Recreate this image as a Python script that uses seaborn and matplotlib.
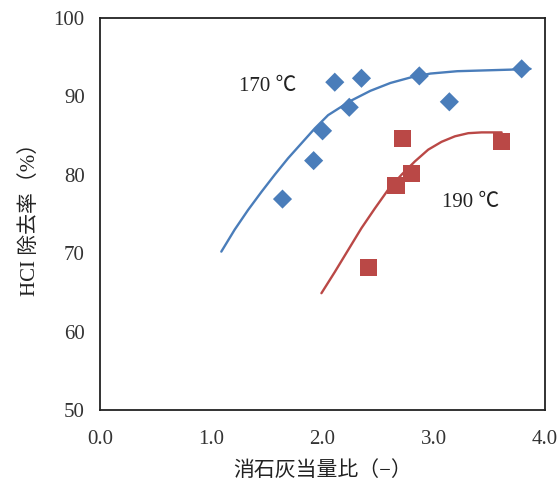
import matplotlib
matplotlib.use("Agg")
import matplotlib.pyplot as plt
import seaborn as sns
import pandas as pd

# measured points
x170 = [1.64, 1.92, 2.00, 2.11, 2.24, 2.35, 2.87, 3.14, 3.79]
y170 = [76.9, 81.8, 85.6, 91.8, 88.6, 92.3, 92.6, 89.3, 93.5]
x190 = [2.41, 2.66, 2.72, 2.80, 3.61]
y190 = [68.2, 78.6, 84.6, 80.2, 84.2]

# fitted curves
cx170 = [1.09, 1.21, 1.33, 1.45, 1.57, 1.69, 1.81, 1.93, 2.05, 2.25,
         2.43, 2.61, 2.79, 2.97, 3.21, 3.45, 3.69, 3.87]
cy170 = [70.2, 73.0, 75.5, 77.8, 80.0, 82.1, 84.0, 85.9, 87.6, 89.4,
         90.7, 91.7, 92.4, 92.9, 93.2, 93.3, 93.4, 93.5]
cx190 = [1.99, 2.11, 2.23, 2.35, 2.47, 2.59, 2.71, 2.83, 2.95, 3.07, 3.19,
         3.31, 3.43, 3.61]
cy190 = [64.9, 67.6, 70.4, 73.2, 75.7, 78.1, 80.0, 81.7, 83.2, 84.2, 84.9,
         85.3, 85.4, 85.4]

BLUE = "#4A7DBA"
RED = "#BA4846"

sns.set_style("white")
plt.rcParams["font.family"] = ["Liberation Serif", "Noto Sans CJK JP"]

fig = plt.figure(figsize=(5.59, 4.83), dpi=100)
ax = fig.add_axes([0.179, 0.151, 0.796, 0.812])

curve170 = pd.DataFrame({"x": cx170, "y": cy170})
curve190 = pd.DataFrame({"x": cx190, "y": cy190})
sns.lineplot(data=curve170, x="x", y="y", color=BLUE, lw=1.7, ax=ax, sort=False)
sns.lineplot(data=curve190, x="x", y="y", color=RED, lw=1.7, ax=ax, sort=False)

pts170 = pd.DataFrame({"x": x170, "y": y170})
pts190 = pd.DataFrame({"x": x190, "y": y190})
sns.scatterplot(data=pts170, x="x", y="y", marker="D", s=95, color=BLUE,
                edgecolor="none", ax=ax, zorder=3)
sns.scatterplot(data=pts190, x="x", y="y", marker="s", s=155, color=RED,
                edgecolor="none", ax=ax, zorder=3)

ax.text(1.51, 91.2, "170 ℃", fontsize=15, ha="center", va="center", color="#222222")
ax.text(3.33, 76.5, "190 ℃", fontsize=15, ha="center", va="center", color="#222222")

ax.set_xlim(0, 4)
ax.set_ylim(50, 100)
ax.set_xticks([0, 1, 2, 3, 4])
ax.set_xticklabels(["0.0", "1.0", "2.0", "3.0", "4.0"])
ax.set_yticks([50, 60, 70, 80, 90, 100])
ax.tick_params(direction="in", length=5, color="#888888", labelsize=15,
               labelcolor="#333333")
ax.tick_params(axis="x", pad=14)
ax.tick_params(axis="y", pad=11)
for sp in ax.spines.values():
    sp.set_color("#222222")
    sp.set_linewidth(1.3)

ax.set_xlabel("消石灰当量比（−）", fontsize=15, color="#222222", labelpad=9)
ax.set_ylabel("HCI 除去率（%）", fontsize=15, color="#222222", labelpad=10)

fig.savefig("out.png", dpi=100)
